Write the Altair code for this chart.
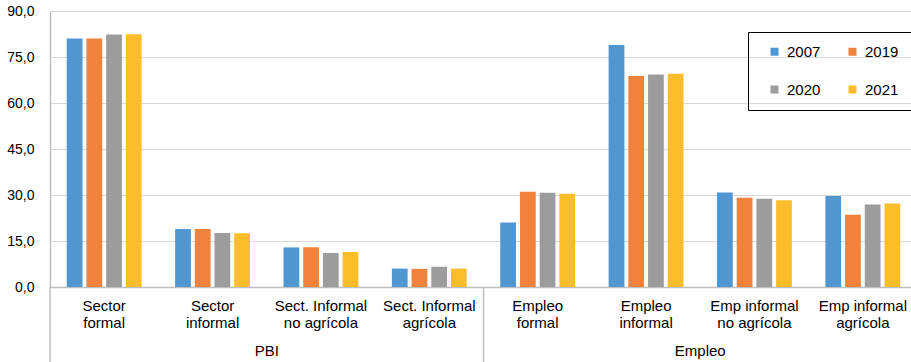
import altair as alt
import pandas as pd

categories = [
    "Sector\nformal", "Sector\ninformal", "Sect. Informal\nno agrícola", "Sect. Informal\nagrícola",
    "Empleo\nformal", "Empleo\ninformal", "Emp informal\nno agrícola", "Emp informal\nagrícola",
]
years = ["2007", "2019", "2020", "2021"]
v2007 = [81.0, 18.9, 12.9, 6.0, 21.0, 78.9, 30.8, 29.7]
v2019 = [81.0, 18.9, 13.0, 5.9, 31.1, 68.8, 29.1, 23.6]
v2020 = [82.3, 17.6, 11.1, 6.6, 30.7, 69.3, 28.8, 26.9]
v2021 = [82.4, 17.5, 11.4, 6.0, 30.4, 69.5, 28.3, 27.2]
colors = ["#5097D2", "#F0823C", "#9A9C9D", "#FCBD2A"]
groups = ["PBI", "Empleo"]
group_center_cat = [categories[2], categories[6]]
separator_cat = [categories[0], categories[4]]
y_ticks = [0, 15, 30, 45, 60, 75, 90]

series = [v2007, v2019, v2020, v2021]
rows = []
for y, vals in zip(years, series):
    for c, v in zip(categories, vals):
        rows.append({"cat": c, "year": y, "value": v})
df = pd.DataFrame(rows)
gdf = pd.DataFrame({"cat": group_center_cat, "label": groups})
sdf = pd.DataFrame({"cat": separator_cat})

W, H = 861, 276
FONT = "Liberation Sans"

xscale = alt.Scale(domain=categories, range=[0, 867], paddingInner=0, paddingOuter=0)

bars = alt.Chart(df).mark_bar().encode(
    x=alt.X("cat:N", sort=categories, scale=xscale, title=None,
            axis=alt.Axis(labelAngle=0, ticks=False, grid=False, domain=True,
                          domainColor="#BFBFBF", domainWidth=1.5,
                          labelExpr="split(datum.label, '\\n')",
                          labelFontSize=15, labelLineHeight=17, labelPadding=11,
                          labelOverlap=False, labelColor="#000000", labelFont=FONT)),
    xOffset=alt.XOffset("year:N", sort=years,
                        scale=alt.Scale(paddingInner=0.2, paddingOuter=0.85)),
    y=alt.Y("value:Q", scale=alt.Scale(domain=[0, 90], nice=False), title=None,
            axis=alt.Axis(values=y_ticks, ticks=False, domain=True, domainColor="#BFBFBF",
                          domainWidth=1.5, gridColor="#D9D9D9", gridWidth=1.2,
                          labelExpr="replace(format(datum.value, '.1f'), '.', ',')",
                          labelFontSize=14, labelPadding=16, labelColor="#000000",
                          labelFont=FONT)),
    color=alt.Color("year:N", sort=years, scale=alt.Scale(domain=years, range=colors),
                    legend=alt.Legend(orient="none", legendX=698, legendY=21, columns=2,
                                      direction="horizontal",
                                      title=None, symbolType="square", symbolSize=64,
                                      symbolStrokeWidth=0, labelFontSize=15, labelFont=FONT,
                                      labelColor="#000000", strokeColor="#000000",
                                      padding=12, rowPadding=22, columnPadding=17,
                                      labelOffset=5, symbolOffset=7)),
)

seps = alt.Chart(sdf).mark_rule(color="#BFBFBF", strokeWidth=1.5).encode(
    x=alt.X("cat:N", sort=categories, scale=xscale, bandPosition=0),
    y=alt.value(H),
    y2=alt.value(H + 80),
)

glabels = alt.Chart(gdf).mark_text(fontSize=15, font=FONT, color="#000000",
                                   baseline="middle").encode(
    x=alt.X("cat:N", sort=categories, scale=xscale, bandPosition=0),
    y=alt.value(H + 64),
    text="label:N",
)

chart = alt.layer(bars, seps, glabels).properties(
    width=W, height=H,
    autosize=alt.AutoSizeParams(type="none"),
    padding={"left": 50, "top": 11, "right": 0, "bottom": 75},
).configure_view(stroke=None)

chart.save("out.html", embed_options={"renderer": "svg", "actions": False})
